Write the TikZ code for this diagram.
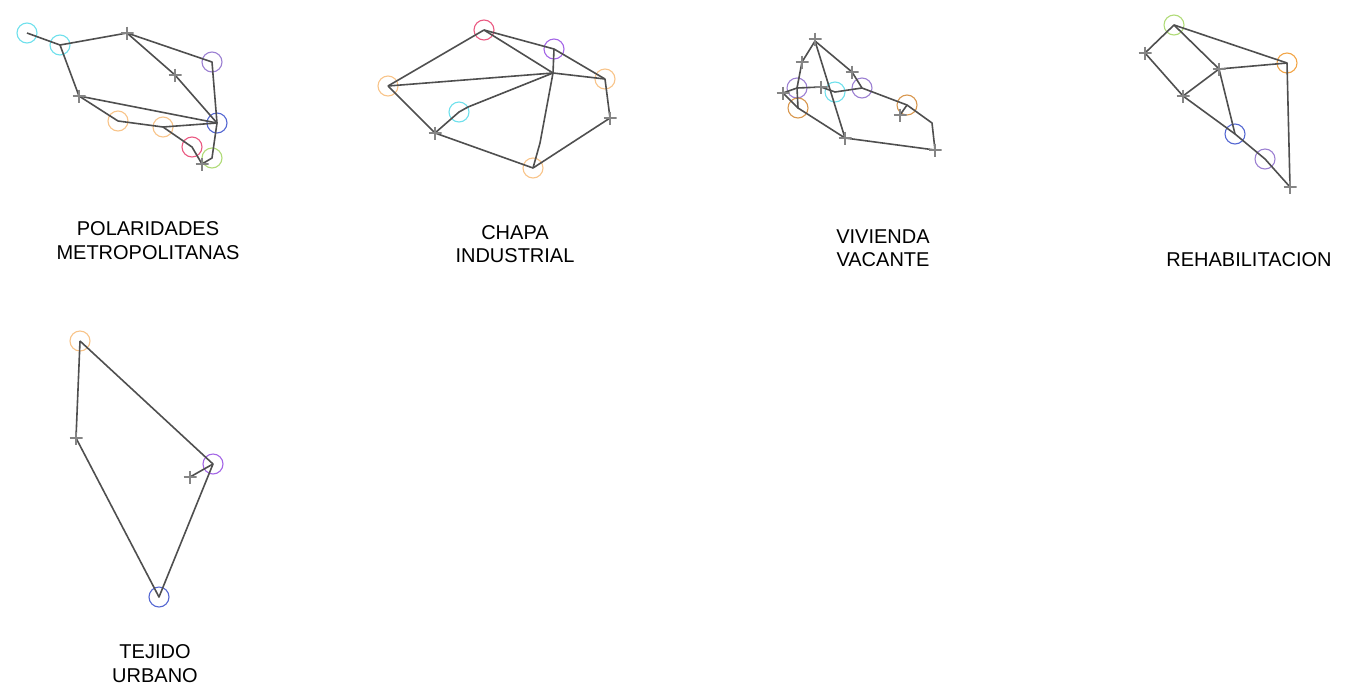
\documentclass[tikz,border=0pt]{standalone}
\usepackage{fontspec}
\setmainfont{Liberation Sans}
\definecolor{edgegray}{HTML}{4F4F4F}
\definecolor{crossgray}{HTML}{858585}
\definecolor{cCyan}{HTML}{6FE0EC}
\definecolor{cPurple}{HTML}{9C80D2}
\definecolor{cVivid}{HTML}{A466E6}
\definecolor{cBlue}{HTML}{5568D2}
\definecolor{cPeach}{HTML}{F8C48A}
\definecolor{cOrange}{HTML}{F2A547}
\definecolor{cDark}{HTML}{D8974E}
\definecolor{cRed}{HTML}{EA5A82}
\definecolor{cGreen}{HTML}{B0DB78}
\tikzset{
  ring/.style={circle, draw=#1, line width=1.1pt, minimum size=20pt, inner sep=0pt},
  plusmark/.style={minimum size=13pt, inner sep=0pt,
    path picture={\draw[crossgray, line width=1.3pt]
      (path picture bounding box.north) -- (path picture bounding box.south)
      (path picture bounding box.west) -- (path picture bounding box.east);}},
  edge/.style={draw=edgegray, line width=1.6pt, line join=round},
  label/.style={align=center, font=\fontsize{20}{23.5}\selectfont, inner sep=0pt}
}
\begin{document}
\begin{tikzpicture}[x=1pt,y=-1pt]
\useasboundingbox (0,0) rectangle (1367,697);
% ---------- graph 1 ----------
\coordinate (a1) at (27,33);
\coordinate (a2) at (60,45);
\coordinate (a3) at (127,33);
\coordinate (a4) at (212,62);
\coordinate (a5) at (175,75);
\coordinate (a6) at (79,96);
\coordinate (a7) at (118,121);
\coordinate (a8) at (163,127);
\coordinate (a9) at (217,123);
\coordinate (a10) at (192,147);
\coordinate (a11) at (212,158);
\coordinate (a12) at (202,164);
\node[ring=cCyan] (ra1) at (a1) {};
\node[ring=cCyan] (ra2) at (a2) {};
\node[ring=cPurple] (ra4) at (a4) {};
\node[ring=cPeach] (ra7) at (a7) {};
\node[ring=cPeach] (ra8) at (a8) {};
\node[ring=cBlue] (ra9) at (a9) {};
\node[ring=cRed] (ra10) at (a10) {};
\node[ring=cGreen] (ra11) at (a11) {};
\draw[edge] (a1) -- (a2) -- (a3) -- (a4) -- (a9);
\draw[edge] (a3) -- (a5) -- (a9);
\draw[edge] (a2) -- (a6) -- (a9);
\draw[edge] (a6) -- (a7) -- (a8) -- (a9);
\draw[edge] (a8) -- (a10) -- (a12);
\draw[edge] (a9) -- (a11) -- (a12);
\node[plusmark] (xa3) at (a3) {};
\node[plusmark] (xa5) at (a5) {};
\node[plusmark] (xa6) at (a6) {};
\node[plusmark] (xa12) at (a12) {};
% ---------- graph 2 ----------
\coordinate (b1) at (484,30);
\coordinate (b2) at (554,49);
\coordinate (b3) at (388,86);
\coordinate (b4) at (605,79);
\coordinate (b5) at (459,112);
\coordinate (b5a) at (468,107);
\coordinate (b6) at (553,73);
\coordinate (b7) at (435,133);
\coordinate (b8) at (610,118);
\coordinate (b9) at (533,168);
\coordinate (b9a) at (540,143);
\node[ring=cRed] (rb1) at (b1) {};
\node[ring=cVivid] (rb2) at (b2) {};
\node[ring=cPeach] (rb3) at (b3) {};
\node[ring=cPeach] (rb4) at (b4) {};
\node[ring=cCyan] (rb5) at (b5) {};
\node[ring=cPeach] (rb9) at (b9) {};
\draw[edge] (b3) -- (b1) -- (b2) -- (b4);
\draw[edge] (b1) -- (b6);
\draw[edge] (b2) -- (b6);
\draw[edge] (b3) -- (b6) -- (b4);
\draw[edge] (b3) -- (b7) -- (b5) -- (b5a) -- (b6);
\draw[edge] (b7) -- (b9) -- (b8) -- (b4);
\draw[edge] (b9) -- (b9a) -- (b6);
\node[plusmark] (xb7) at (b7) {};
\node[plusmark] (xb8) at (b8) {};
% ---------- graph 3 ----------
\coordinate (c1) at (815,41);
\coordinate (c2) at (802,62);
\coordinate (c3) at (797,88);
\coordinate (c4) at (798,108);
\coordinate (c5) at (783,93);
\coordinate (c6) at (821,87);
\coordinate (c7) at (835,92);
\coordinate (c8) at (852,72);
\coordinate (c9) at (862,88);
\coordinate (c10) at (907,105);
\coordinate (c11) at (900,115);
\coordinate (c12) at (932,123);
\coordinate (c13) at (935,150);
\coordinate (c14) at (845,138);
\node[ring=cPurple] (rc3) at (c3) {};
\node[ring=cDark] (rc4) at (c4) {};
\node[ring=cCyan] (rc7) at (c7) {};
\node[ring=cPurple] (rc9) at (c9) {};
\node[ring=cDark] (rc10) at (c10) {};
\draw[edge] (c1) -- (c2) -- (c3) -- (c4) -- (c14);
\draw[edge] (c5) -- (c3) -- (c6) -- (c7) -- (c9);
\draw[edge] (c5) -- (c4);
\draw[edge] (c1) -- (c14);
\draw[edge] (c1) -- (c8) -- (c9);
\draw[edge] (c9) -- (c10) -- (c12) -- (c13) -- (c14);
\draw[edge] (c11) -- (c10);
\node[plusmark] (xc1) at (815,39) {};
\node[plusmark] (xc2) at (c2) {};
\node[plusmark] (xc5) at (c5) {};
\node[plusmark] (xc6) at (c6) {};
\node[plusmark] (xc8) at (c8) {};
\node[plusmark] (xc11) at (c11) {};
\node[plusmark] (xc13) at (c13) {};
\node[plusmark] (xc14) at (c14) {};
% ---------- graph 4 ----------
\coordinate (d1) at (1174,25);
\coordinate (d2) at (1145,53);
\coordinate (d3) at (1219,69);
\coordinate (d4) at (1287,63);
\coordinate (d5) at (1183,96);
\coordinate (d6) at (1235,134);
\coordinate (d7) at (1265,159);
\coordinate (d8) at (1290,187);
\node[ring=cGreen] (rd1) at (d1) {};
\node[ring=cOrange] (rd4) at (d4) {};
\node[ring=cBlue] (rd6) at (d6) {};
\node[ring=cPurple] (rd7) at (d7) {};
\draw[edge] (d2) -- (d1) -- (d4) -- (d8);
\draw[edge] (d1) -- (d3) -- (d4);
\draw[edge] (d3) -- (d5);
\draw[edge] (d3) -- (d6);
\draw[edge] (d2) -- (d5) -- (d6) -- (d7) -- (d8);
\node[plusmark] (xd2) at (d2) {};
\node[plusmark] (xd3) at (d3) {};
\node[plusmark] (xd5) at (d5) {};
\node[plusmark] (xd8) at (d8) {};
% ---------- graph 5 ----------
\coordinate (e1) at (80,341);
\coordinate (e2) at (76,438);
\coordinate (e3) at (213,464);
\coordinate (e4) at (190,477);
\coordinate (e5) at (159,597);
\node[ring=cPeach] (re1) at (e1) {};
\node[ring=cVivid] (re3) at (e3) {};
\node[ring=cBlue] (re5) at (e5) {};
\draw[edge] (e1) -- (e2) -- (e5) -- (e3) -- (e1);
\draw[edge] (e3) -- (e4);
\node[plusmark] (xe2) at (e2) {};
\node[plusmark] (xe4) at (e4) {};
% ---------- labels ----------
\node[label] (l1) at (148,240.5) {POLARIDADES\\METROPOLITANAS};
\node[label] (l2) at (515,244) {CHAPA\\INDUSTRIAL};
\node[label] (l3) at (883,248) {VIVIENDA\\VACANTE};
\node[label] (l4) at (1249,260) {REHABILITACION};
\node[label] (l5) at (155,663.5) {TEJIDO\\URBANO};
\end{tikzpicture}
\end{document}
